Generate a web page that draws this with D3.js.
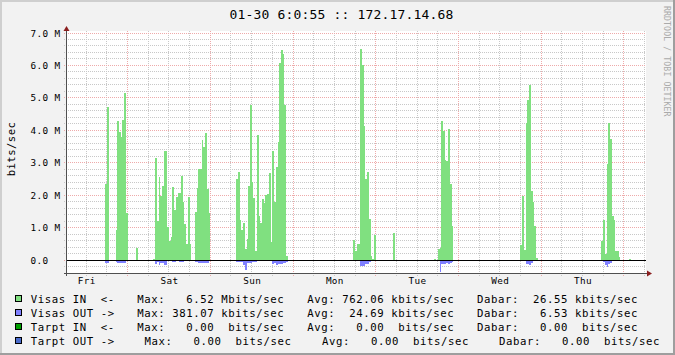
<!DOCTYPE html>
<html>
<head>
<meta charset="utf-8">
<script src="https://cdn.jsdelivr.net/npm/d3@7"></script>
<style>
  html, body { margin: 0; padding: 0; background: #f2f2f2; }
  svg { display: block; }
  text { font-family: "DejaVu Sans Mono", monospace; white-space: pre; }
</style>
</head>
<body>
<svg id="chart" width="675" height="355"></svg>
<script>
// one week of traffic, 30 minute steps, values in Mbit/s
const stepMinutes = 30;
const burstStart = ["2009-01-23 17:30", "2009-01-24 02:30", "2009-01-24 07:30", "2009-01-25 07:30",
  "2009-01-26 17:30", "2009-01-27 05:00", "2009-01-27 17:00", "2009-01-28 18:00",
  "2009-01-29 17:30", "2009-01-30 01:30"];

const visasIn = [
  [2.34, 4.71, 0, 0, 0, 0, 0.93, 4.29, 3.96, 3.78, 4.32, 5.15, 1.44],
  [0.37],
  [0.04, 3.14, 1.20, 2.57, 1.98, 2.28, 3.36, 3.36, 1.02, 0.59, 0.70, 2.25, 1.54, 1.94, 2.07, 2.07, 2.59,
   1.80, 1.11, 0.49, 1.94, 0.49, 0, 0, 1.48, 2.22, 2.80, 2.80, 3.70, 3.49, 3.92, 2.19, 1.46],
  [2.50, 2.71, 1.23, 0.93, 1.14, 0.34, 0.65, 2.28, 4.77, 2.40, 1.90, 0.28, 3.85, 1.36, 1.14, 1.88, 1.77,
   1.99, 2.05, 2.68, 0.57, 3.36, 1.79, 2.86, 3.63, 6.09, 6.47, 6.35, 4.78, 0.12],
  [0.62, 0.28, 0.49, 0.49, 6.52, 6.01, 4.13, 2.50, 2.71, 1.26, 0.12, 0.03, 0.77],
  [0.83],
  [0.04, 0, 0.33, 0.37, 4.29, 3.98, 3.08, 3.05, 4.04, 2.34, 1.05],
  [0.46, 1.98, 0.30, 4.22, 4.93, 5.40, 2.13, 1.78, 1.05, 0.06],
  [0.59, 1.23, 0.18, 2.96, 4.22, 3.73, 1.36, 1.23, 0.28, 0.28, 0.08],
  [0.03]
];

// drawn below zero
const visasOut = [
  [0.10, 0.10, 0, 0, 0, 0, 0.05, 0.09, 0.09, 0.09, 0.09, 0.08, 0.03],
  [0],
  [0.02, 0.11, 0.07, 0.14, 0.10, 0.10, 0.15, 0.15, 0.04, 0.03, 0.04, 0.06, 0.05, 0.04, 0.04, 0.06, 0.07,
   0.05, 0.04, 0.02, 0.04, 0.02, 0, 0, 0.05, 0.07, 0.08, 0.08, 0.08, 0.08, 0.08, 0.08, 0.04],
  [0.05, 0.05, 0.05, 0.05, 0.15, 0.31, 0.08, 0.08, 0.10, 0.05, 0.05, 0.05, 0.04, 0.04, 0.04, 0.04, 0.04,
   0.04, 0.04, 0.04, 0.04, 0.13, 0.10, 0.16, 0.13, 0.12, 0.12, 0.10, 0.10, 0.05],
  [0.04, 0.02, 0.02, 0.02, 0.17, 0.17, 0.17, 0.12, 0.12, 0.06, 0.02, 0.01, 0.02],
  [0],
  [0, 0, 0.03, 0.38, 0.12, 0.12, 0.12, 0.10, 0.13, 0.09, 0.05],
  [0.02, 0.03, 0.02, 0.13, 0.13, 0.14, 0.09, 0.04, 0.04, 0.02],
  [0.02, 0.06, 0.15, 0.21, 0.11, 0.08, 0.04, 0.04, 0.02, 0.02, 0],
  [0]
];

const dayNames = ["Fri", "Sat", "Sun", "Mon", "Tue", "Wed", "Thu"];
const yTickValues = [0, 1, 2, 3, 4, 5, 6, 7];
const yTickLabels = ["0.0", "1.0 M", "2.0 M", "3.0 M", "4.0 M", "5.0 M", "6.0 M", "7.0 M"];

const legendNames = ["Visas IN  <-", "Visas OUT ->", "Tarpt IN  <-", "Tarpt OUT ->"];
const legendColors = ["#80e080", "#8080ff", "#00a000", "#4a6ccc"];
const maxText = ["Max:   6.52 Mbits/sec", "Max: 381.07 kbits/sec", "Max:   0.00  bits/sec", "Max:   0.00  bits/sec"];
const avgText = ["Avg: 762.06 kbits/sec", "Avg:  24.69 kbits/sec", "Avg:   0.00  bits/sec", "Avg:   0.00  bits/sec"];
const nowText = ["Dabar:  26.55 kbits/sec", "Dabar:   6.53 kbits/sec", "Dabar:   0.00  bits/sec", "Dabar:   0.00  bits/sec"];

const parse = d3.timeParse("%Y-%m-%d %H:%M");
const start = parse("2009-01-23 06:25"), end = parse("2009-01-30 06:25");

const plotLeft = 67, plotRight = 646, plotTop = 33, plotBottom = 273;
const x = d3.scaleTime().domain([start, end]).range([plotLeft, plotRight]);
const y = d3.scaleLinear().domain([-0.4, 7.0]).range([plotBottom, plotTop]);

const svg = d3.select("#chart");

// frame
svg.append("rect").attr("width", 675).attr("height", 355).attr("fill", "#f2f2f2");
svg.append("rect").attr("width", 675).attr("height", 2).attr("fill", "#cfcfcf");
svg.append("rect").attr("width", 2).attr("height", 355).attr("fill", "#cfcfcf");
svg.append("rect").attr("y", 353).attr("width", 675).attr("height", 2).attr("fill", "#9e9e9e");
svg.append("rect").attr("x", 673).attr("width", 2).attr("height", 355).attr("fill", "#9e9e9e");

svg.append("rect").attr("x", plotLeft).attr("y", 31).attr("width", plotRight - plotLeft).attr("height", plotBottom - 31)
  .attr("fill", "#fff");

// grid
const px = v => Math.floor(v) + 0.5;
const grid = svg.append("g").attr("stroke-dasharray", "1,1").attr("shape-rendering", "crispEdges");

const midnights = d3.timeDay.range(start, end);
const sixHours = d3.timeHour.every(6).range(start, end).filter(t => t.getHours() !== 0);
const noons = d3.timeDay.range(d3.timeDay.floor(start), end)
  .map(d => d3.timeHour.offset(d, 12))
  .filter(d => d >= start && d < end);

grid.selectAll(".vmin").data(sixHours).enter().append("line")
  .attr("x1", d => px(x(d))).attr("x2", d => px(x(d)))
  .attr("y1", 31).attr("y2", plotBottom + 3)
  .attr("stroke", "#c8c8c8");

const minorY = d3.range(-2, 36).map(i => i / 5).filter(v => Math.abs(v - Math.round(v)) > 0.01);
grid.selectAll(".hmin").data(minorY).enter().append("line")
  .attr("x1", plotLeft - 3).attr("x2", plotRight)
  .attr("y1", d => px(y(d))).attr("y2", d => px(y(d)))
  .attr("stroke", "#c8c8c8");

grid.selectAll(".vmaj").data(midnights).enter().append("line")
  .attr("x1", d => px(x(d))).attr("x2", d => px(x(d)))
  .attr("y1", 31).attr("y2", plotBottom + 3)
  .attr("stroke", "#eeaaaa");

grid.selectAll(".hmaj").data(yTickValues).enter().append("line")
  .attr("x1", plotLeft - 3).attr("x2", plotRight)
  .attr("y1", d => px(y(d))).attr("y2", d => px(y(d)))
  .attr("stroke", "#eeaaaa");

// traffic areas
const stepMs = stepMinutes * 60 * 1000;
function points(i, values) {
  const t0 = parse(burstStart[i]).getTime();
  const pts = values.map((v, k) => ({ t: new Date(t0 + k * stepMs), v }));
  pts.push({ t: new Date(t0 + values.length * stepMs), v: values[values.length - 1] });
  return pts;
}

const areaIn = d3.area().curve(d3.curveStepAfter)
  .x(d => x(d.t)).y0(y(0)).y1(d => y(d.v));
const areaOut = d3.area().curve(d3.curveStepAfter)
  .x(d => x(d.t)).y0(y(0)).y1(d => y(-d.v));

svg.append("clipPath").attr("id", "plot").append("rect")
  .attr("x", plotLeft).attr("y", plotTop).attr("width", plotRight - plotLeft).attr("height", plotBottom - plotTop);

const data = svg.append("g").attr("clip-path", "url(#plot)").attr("shape-rendering", "crispEdges");
visasIn.forEach((vals, i) => {
  data.append("path").attr("d", areaIn(points(i, vals))).attr("fill", legendColors[0]);
});
visasOut.forEach((vals, i) => {
  data.append("path").attr("d", areaOut(points(i, vals))).attr("fill", legendColors[1]);
});

// zero line
svg.append("line").attr("x1", plotLeft).attr("x2", plotRight)
  .attr("y1", px(y(0))).attr("y2", px(y(0)))
  .attr("stroke", "#000").attr("shape-rendering", "crispEdges");

// axes
svg.append("line").attr("x1", plotLeft - 3).attr("x2", plotRight + 2).attr("y1", plotBottom + 0.5).attr("y2", plotBottom + 0.5)
  .attr("stroke", "#505050").attr("shape-rendering", "crispEdges");
svg.append("line").attr("x1", plotLeft - 0.5).attr("x2", plotLeft - 0.5).attr("y1", plotBottom + 3).attr("y2", 28)
  .attr("stroke", "#505050").attr("shape-rendering", "crispEdges");
svg.append("path").attr("d", `M${plotRight + 1},${plotBottom - 2.5}L${plotRight + 6},${plotBottom + 0.5}L${plotRight + 1},${plotBottom + 3.5}Z`)
  .attr("fill", "#8b1f1f");
svg.append("path").attr("d", `M${plotLeft - 3.5},31L${plotLeft - 0.5},26L${plotLeft + 2.5},31Z`)
  .attr("fill", "#8b1f1f");

// tick labels
const small = "font-size:9.33px;letter-spacing:0.38px";
svg.selectAll(".ylab").data(yTickValues).enter().append("text")
  .attr("x", 30.5).attr("y", d => y(d) + 3.6)
  .attr("style", small)
  .text((d, i) => yTickLabels[i]);

svg.selectAll(".xlab").data(noons).enter().append("text")
  .attr("x", d => x(d) + 0.5).attr("y", 284)
  .attr("text-anchor", "middle")
  .attr("style", small)
  .text((d, i) => dayNames[i]);

// titles
svg.append("text").attr("x", 229.5).attr("y", 18.5)
  .attr("style", "font-size:13px;letter-spacing:0.17px")
  .text("01-30 6:0:55 :: 172.17.14.68");

svg.append("text").attr("transform", "translate(15,149) rotate(-90)")
  .attr("text-anchor", "middle")
  .attr("style", "font-size:10.67px;letter-spacing:0.4px")
  .text("bits/sec");

svg.append("text").attr("transform", "translate(663.5,6) rotate(90)")
  .attr("fill", "#aaaaaa")
  .attr("style", "font-size:8.2px;letter-spacing:0.1px")
  .text("RRDTOOL / TOBI OETIKER");

// legend
const legendX = [[30.7, 137.3, 307.3, 477], [30.7, 137.3, 307.3, 477], [30.7, 137.3, 307.3, 477], [30.7, 144.6, 322, 499]];
const legend = svg.append("g").attr("style", "font-size:10.67px;letter-spacing:0.58px");
legendNames.forEach((name, i) => {
  const base = 303 + i * 14;
  legend.append("rect").attr("x", 15.5).attr("y", base - 7.5).attr("width", 6).attr("height", 6)
    .attr("fill", legendColors[i]).attr("stroke", "#000").attr("shape-rendering", "crispEdges");
  [name, maxText[i], avgText[i], nowText[i]].forEach((s, j) => {
    legend.append("text").attr("x", legendX[i][j]).attr("y", base).text(s);
  });
});
</script>
</body>
</html>
